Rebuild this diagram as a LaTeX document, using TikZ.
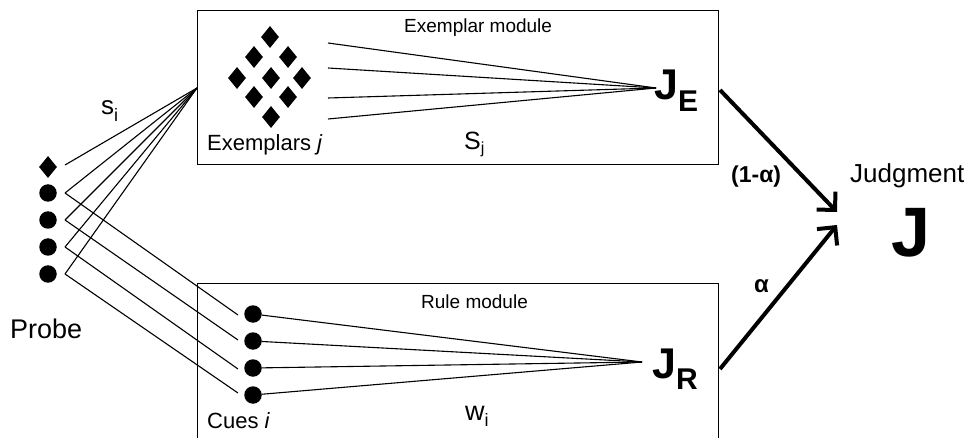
\documentclass[tikz,border=0pt]{standalone}
\usepackage{fontspec}
\setmainfont{Liberation Sans}
\usetikzlibrary{shapes.geometric,arrows.meta}
\newcommand\myfs[1]{\fontsize{#1}{#1}\selectfont}
\begin{document}
\begin{tikzpicture}[x=1pt,y=-1pt,
  lab/.style={inner sep=0pt,anchor=base west},
  dotnode/.style={circle,fill=black,inner sep=0pt,minimum size=17.5pt},
  dianode/.style={diamond,fill=black,inner sep=0pt,minimum width=18pt,minimum height=22pt},
  conn/.style={line width=1.1pt},
  boxline/.style={line width=0.8pt},
  bigarrow/.style={line width=4pt,-{Straight Barb[length=13pt,width=26pt,line width=4pt]}}]
\useasboundingbox (0,0) rectangle (974,438);

% boxes
\draw[boxline] (197,10) rectangle (718,164);
\draw[boxline] (197,438) -- (197,283) -- (718,283) -- (718,438);

% labels
\node[lab] (tex) at (404,33) {\myfs{19}Exemplar module};
\node[lab] (trule) at (421,308) {\myfs{19}Rule module};
\node[lab] (lex) at (207,151) {\myfs{22}Exemplars \textit{j}};
\node[lab] (lcue) at (207,428) {\myfs{22}Cues \textit{i}};
\node[lab] (lprobe) at (10,338) {\myfs{27}Probe};
\node[lab] (lsi) at (101,115) {\myfs{26}s{\myfs{18}\raisebox{-7pt}{i}}};
\node[lab] (lsj) at (464,150) {\myfs{25}S{\myfs{16}\raisebox{-4pt}{j}}};
\node[lab] (lwi) at (465,420) {\myfs{27}w{\myfs{18}\raisebox{-6pt}{i}}};
\node[lab] (JE) at (654,100) {\bfseries\myfs{43}J{\myfs{30}\raisebox{-12pt}{E}}};
\node[lab] (JR) at (652,378) {\bfseries\myfs{43}J{\myfs{30}\raisebox{-11pt}{R}}};
\node[lab] (ljud) at (850,183) {\myfs{26}Judgment};
\node[lab] (J) at (891,257) {\bfseries\myfs{70}J};
\node[lab] (lone) at (731,183) {\bfseries\myfs{23}(1-α)};
\node[lab] (lalpha) at (754,293) {\bfseries\myfs{24}α};

% probe
\node[dianode] (p0) at (48,167) {};
\node[dotnode] (p1) at (48,193) {};
\node[dotnode] (p2) at (48,220) {};
\node[dotnode] (p3) at (48,247) {};
\node[dotnode] (p4) at (48,274) {};
\coordinate (po0) at (65,165);
\coordinate (po1) at (65,193);
\coordinate (po2) at (65,220);
\coordinate (po3) at (65,247);
\coordinate (po4) at (65,274);
\coordinate (ein) at (197,88);

% exemplars
\node[dianode] (e1) at (270,37) {};
\node[dianode] (e2) at (254,57) {};
\node[dianode] (e3) at (288,57) {};
\node[dianode] (e4) at (237,78) {};
\node[dianode] (e5) at (271,78) {};
\node[dianode] (e6) at (302,78) {};
\node[dianode] (e7) at (254,97) {};
\node[dianode] (e8) at (288,97) {};
\node[dianode] (e9) at (271,117) {};
\coordinate (eo1) at (328,43);
\coordinate (eo2) at (328,68);
\coordinate (eo3) at (328,98);
\coordinate (eo4) at (328,119);
\coordinate (je) at (656,88);

% cues
\node[dotnode] (c1) at (253,314) {};
\node[dotnode] (c2) at (253,341) {};
\node[dotnode] (c3) at (253,368) {};
\node[dotnode] (c4) at (253,395) {};
\coordinate (ci1) at (238,315);
\coordinate (ci2) at (238,340);
\coordinate (ci3) at (238,369);
\coordinate (ci4) at (238,393);
\coordinate (jr) at (642,362);

% probe connections
\foreach \i in {0,...,4} \draw[conn] (po\i) -- (ein);
\foreach \i in {1,...,4} \draw[conn] (po\i) -- (ci\i);

% module fans
\foreach \i in {1,...,4} \draw[conn] (eo\i) -- (je);
\foreach \i in {1,...,4} \draw[conn] (c\i) -- (jr);

% arrows
\coordinate (ae) at (720,90);
\coordinate (ar) at (720,369);
\coordinate (t1) at (837,212);
\coordinate (t2) at (837,225);
\draw[bigarrow] (ae) -- (t1);
\draw[bigarrow] (ar) -- (t2);
\end{tikzpicture}
\end{document}
